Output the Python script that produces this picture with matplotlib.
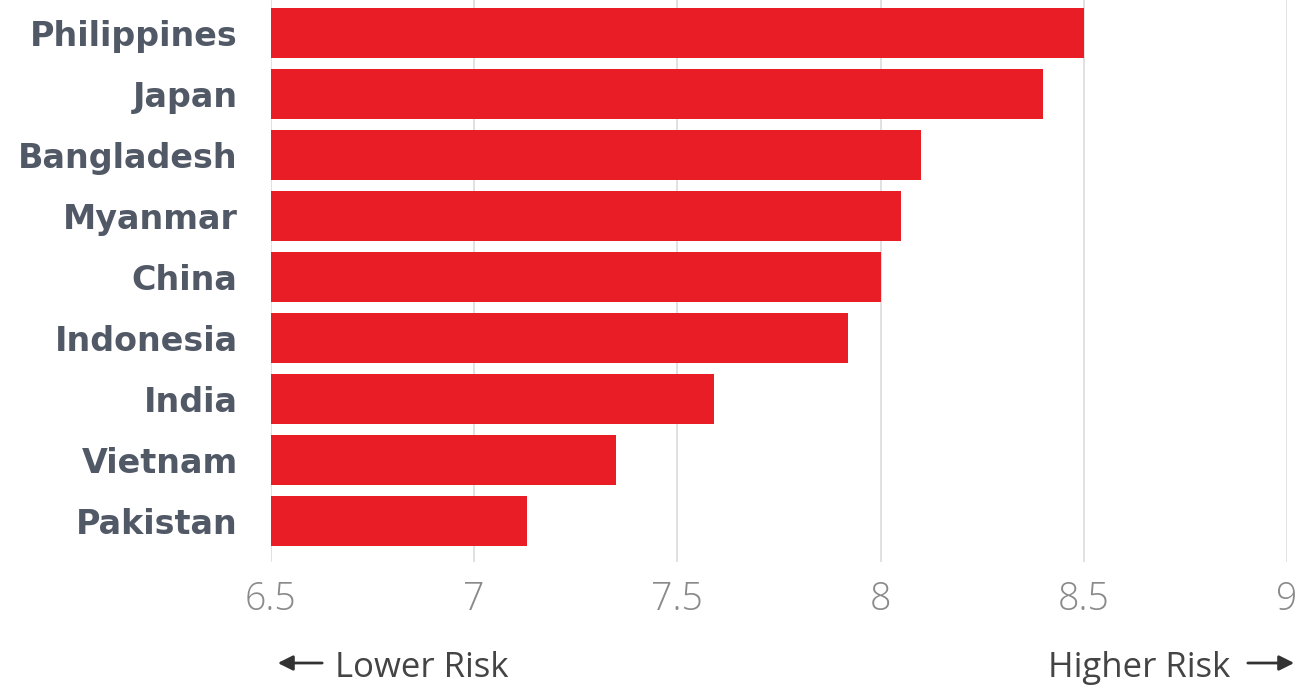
import matplotlib
matplotlib.use("Agg")
import matplotlib.pyplot as plt

# data
countries = ["Philippines", "Japan", "Bangladesh", "Myanmar", "China",
             "Indonesia", "India", "Vietnam", "Pakistan"]
risk = [8.5, 8.4, 8.1, 8.05, 8.0, 7.92, 7.59, 7.35, 7.13]
ticks = [6.5, 7, 7.5, 8, 8.5, 9]
tick_labels = ["6.5", "7", "7.5", "8", "8.5", "9"]

bar_color = "#e91d25"
label_color = "#525966"

plt.rcParams["font.family"] = ["Open Sans", "DejaVu Sans"]

fig = plt.figure(figsize=(13.04, 6.85), dpi=100)
ax = fig.add_axes([0.2078, 0.1796, 0.7792, 0.8204])

y = list(range(len(countries)))
ax.barh(y, [r - 6.5 for r in risk], left=6.5, height=0.82,
        color=bar_color, zorder=2)

ax.set_xlim(6.5, 9)
ax.set_ylim(8.67, -0.54)
ax.set_xticks(ticks)
ax.set_xticklabels(tick_labels, fontsize=27, color="#8a8a8a", fontweight="light")
ax.set_yticks(y)
ax.set_yticklabels(countries, fontsize=24, color=label_color,
                   fontweight="bold", family="DejaVu Sans")
ax.tick_params(axis="x", length=0, pad=13)
ax.tick_params(axis="y", length=0, pad=24)

ax.grid(axis="x", color="#dcdcdc", linewidth=1.2, zorder=0)
ax.grid(axis="y", visible=False)
for s in ax.spines.values():
    s.set_visible(False)

# direction notes under the axis, with arrows
arrow = dict(arrowstyle="-|>,head_length=0.9,head_width=0.45", color="#333333", lw=2)
fig.text(0.257, 0.0117, "Lower Risk", fontsize=25, color="#444444",
         ha="left", va="baseline")
fig.text(0.9433, 0.0117, "Higher Risk", fontsize=25, color="#444444",
         ha="right", va="baseline")
ax.annotate("", xy=(0.2109, 0.0321), xytext=(0.2492, 0.0321),
            xycoords="figure fraction", arrowprops=arrow)
ax.annotate("", xy=(0.9946, 0.0321), xytext=(0.9548, 0.0321),
            xycoords="figure fraction", arrowprops=arrow)

fig.savefig("out.png", dpi=100)
